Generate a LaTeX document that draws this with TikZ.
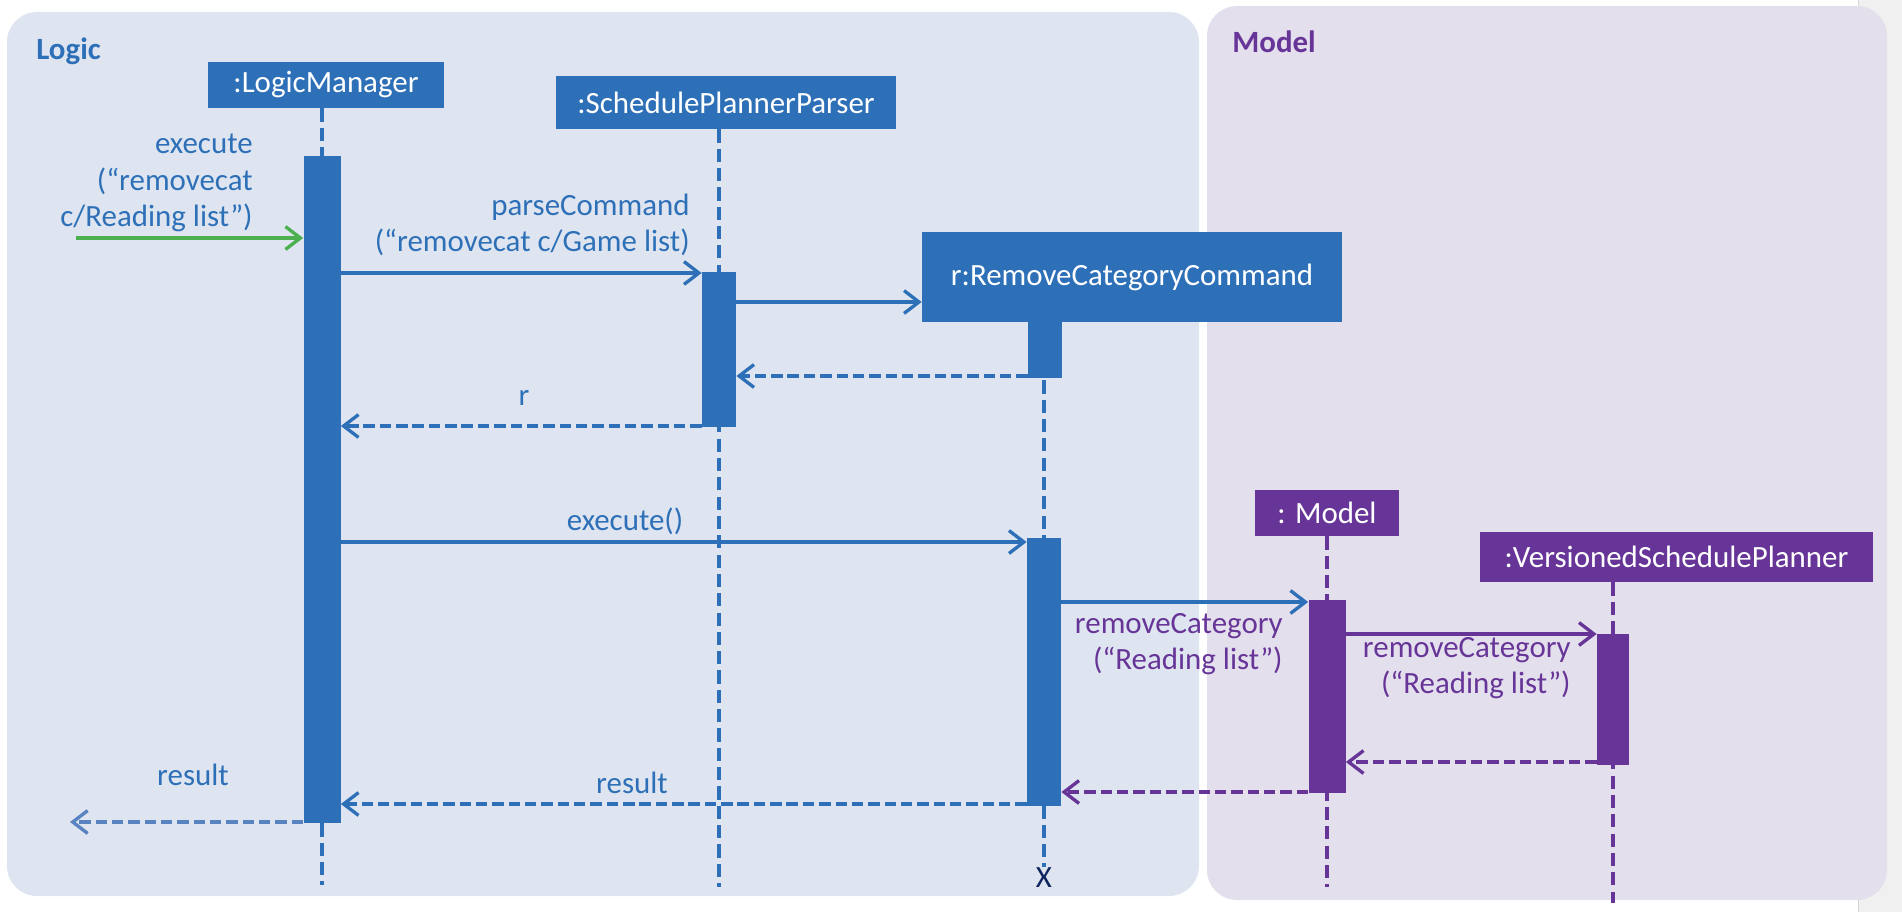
\documentclass[tikz,border=0pt]{standalone}
\usepackage{fontspec}
\setmainfont{Carlito}
\usepackage{xcolor}
\usetikzlibrary{arrows.meta, positioning, calc}

\definecolor{logicblue}{RGB}{46,112,184}
\definecolor{modelpurple}{RGB}{103,53,152}
\definecolor{callgreen}{RGB}{76,175,80}
\definecolor{logicbg}{RGB}{222,229,240}
\definecolor{modelbg}{RGB}{228,223,236}
\definecolor{retblue}{RGB}{88,130,192}
\definecolor{endnavy}{RGB}{16,36,96}
\definecolor{sidegray}{RGB}{240,240,240}
\definecolor{sideline}{RGB}{214,214,214}

\newcommand{\diagfont}{\fontsize{17.6}{20.8}\selectfont}

\tikzset{
	objbox/.style = {rectangle, fill = #1, text = white, inner sep = 0pt, font = \diagfont},
	actbar/.style = {rectangle, fill = #1, inner sep = 0pt},
	lifeline/.style = {draw = #1, line width = 1.9pt, dash pattern = on 7.5pt off 3.5pt},
	call/.style = {draw = #1, line width = 1.9pt, -{Straight Barb[length = 8.5pt, width = 13pt, line width = 1.9pt]}},
	reply/.style = {call = #1, dash pattern = on 6.5pt off 2.8pt},
	msglabel/.style = {text = #1, inner sep = 0pt, align = right, font = \diagfont},
}

\begin{document}
\begin{tikzpicture}[x = 0.02cm, y = -0.02cm]
			\useasboundingbox (0,0) rectangle (1902,912);

			\begin{scope}
				\fill[sidegray] (1858,0) rectangle (1902,912);
				\draw[sideline, line width = 0.6pt] (1858,0) -- (1858,912);
				\fill[logicbg, rounded corners = 0.6cm] (7,12) rectangle (1199,896);
				\fill[modelbg, rounded corners = 0.6cm] (1207,6) rectangle (1887,900);
				\node[anchor = base west, inner sep = 0pt, text = logicblue, font = \diagfont\bfseries] (logicTitle) at (36,60) {Logic};
				\node[anchor = base west, inner sep = 0pt, text = modelpurple, font = \diagfont\bfseries] (modelTitle) at (1232,53) {Model};
			\end{scope}

			\begin{scope}
				\node[objbox = logicblue, minimum width = 4.72cm, minimum height = 0.92cm] (lm) at (326,85) {:LogicManager};
				\node[objbox = logicblue, minimum width = 6.8cm, minimum height = 1.06cm] (spp) at (726,102.5) {:SchedulePlannerParser};
				\node[objbox = logicblue, minimum width = 8.4cm, minimum height = 1.8cm] (rcc) at (1132,277) {r:RemoveCategoryCommand};
				\node[objbox = modelpurple, minimum width = 2.88cm, minimum height = 0.92cm] (model) at (1327,513) {: Model};
				\node[objbox = modelpurple, minimum width = 7.86cm, minimum height = 1.0cm] (vsp) at (1676.5,557) {:VersionedSchedulePlanner};
			\end{scope}

			\begin{scope}
				\coordinate (lmEnd) at (322,885);
				\coordinate (sppEnd) at (719,887);
				\coordinate (modelEnd) at (1327,887);
				\coordinate (vspEnd) at (1613,903);
				\node[inner sep = 0pt, anchor = base, text = endnavy, font = \diagfont] (rccX) at (1044,887) {X};

				\draw[lifeline = logicblue] (lmEnd |- lm.south) -- (lmEnd);
				\draw[lifeline = logicblue] (sppEnd |- spp.south) -- (sppEnd);
				\draw[lifeline = logicblue] (rccX.north |- rcc.south) -- (rccX.north);
				\draw[lifeline = modelpurple] (modelEnd |- model.south) -- (modelEnd);
				\draw[lifeline = modelpurple] (vspEnd |- vsp.south) -- (vspEnd);
			\end{scope}

			\begin{scope}
				\node[actbar = logicblue, minimum width = 0.74cm, minimum height = 13.34cm] (lmAct) at (322,489.5) {};
				\node[actbar = logicblue, minimum width = 0.68cm, minimum height = 3.1cm] (sppAct) at (719,349.5) {};
				\node[actbar = logicblue, minimum width = 0.68cm, minimum height = 1.12cm] (rccAct) at (1045,350) {};
				\node[actbar = logicblue, minimum width = 0.68cm, minimum height = 5.36cm] (rccExec) at (1044,672) {};
				\node[actbar = modelpurple, minimum width = 0.74cm, minimum height = 3.86cm] (modelAct) at (1327,696.5) {};
				\node[actbar = modelpurple, minimum width = 0.64cm, minimum height = 2.62cm] (vspAct) at (1613,699.5) {};
			\end{scope}

			\begin{scope}
				\coordinate (entry) at (76,238);
				\coordinate (exit) at (70,822);
				\coordinate (parseRow) at (0,273);
				\coordinate (createRow) at (0,302);
				\coordinate (backRow) at (0,376);
				\coordinate (rRow) at (0,426);
				\coordinate (execRow) at (0,542);
				\coordinate (removeRow) at (0,602);
				\coordinate (versionRow) at (0,634);
				\coordinate (versionBack) at (0,762);
				\coordinate (modelBack) at (0,792);
				\coordinate (resultRow) at (0,804);

				\draw[call = callgreen] (entry) -- (lmAct.west |- entry);
				\draw[call = logicblue] (lmAct.east |- parseRow) -- (sppAct.west |- parseRow);
				\draw[call = logicblue] (sppAct.east |- createRow) -- (rcc.west |- createRow);
				\draw[reply = logicblue] (rccAct.west |- backRow) -- (sppAct.east |- backRow);
				\draw[reply = logicblue] (sppAct.west |- rRow) -- (lmAct.east |- rRow);
				\draw[call = logicblue] (lmAct.east |- execRow) -- (rccExec.west |- execRow);
				\draw[call = logicblue] (rccExec.east |- removeRow) -- (modelAct.west |- removeRow);
				\draw[call = modelpurple] (modelAct.east |- versionRow) -- (vspAct.west |- versionRow);
				\draw[reply = modelpurple] (vspAct.west |- versionBack) -- (modelAct.east |- versionBack);
				\draw[reply = modelpurple] (modelAct.west |- modelBack) -- (rccExec.east |- modelBack);
				\draw[reply = logicblue] (rccExec.west |- resultRow) -- (lmAct.east |- resultRow);
				\draw[reply = retblue] (lmAct.west |- exit) -- (exit);
			\end{scope}

			\begin{scope}
				\node[msglabel = logicblue, anchor = east] (executeLbl) at (253,183) {execute\\(“removecat\\c/Reading list”)};
				\node[msglabel = logicblue, anchor = east] (parseLbl) at (690,225) {parseCommand\\(“removecat c/Game list)};
				\node[msglabel = logicblue] (rLbl) at (524,398) {r};
				\node[msglabel = logicblue] (execLbl) at (625,521) {execute()};
				\node[msglabel = modelpurple, anchor = east] (removeLbl) at (1283,644) {removeCategory\\(“Reading list”)};
				\node[msglabel = modelpurple, anchor = east] (versionLbl) at (1571,668) {removeCategory\\(“Reading list”)};
				\node[msglabel = logicblue] (resultLbl) at (632,783) {result};
				\node[msglabel = logicblue] (outLbl) at (193,775) {result};
			\end{scope}
		\end{tikzpicture}
\end{document}
